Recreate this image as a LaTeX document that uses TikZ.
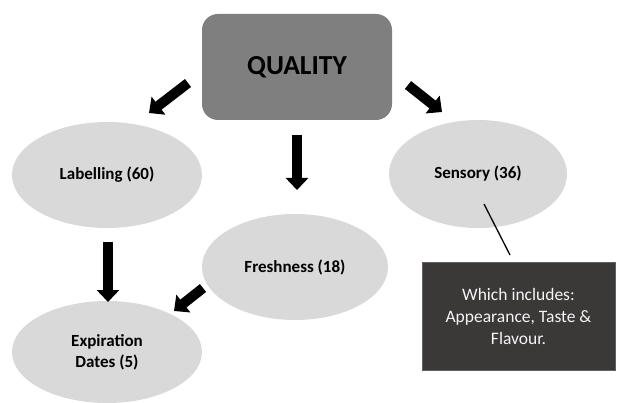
\documentclass[tikz,border=0pt]{standalone}
\usepackage{fontspec}
\setmainfont{Carlito}
\usetikzlibrary{arrows.meta,shapes.geometric}
\definecolor{qgray}{HTML}{7F7F7F}
\definecolor{ovalgray}{HTML}{D9D9D9}
\definecolor{notebox}{HTML}{3B3838}
\begin{document}
\begin{tikzpicture}[x=1pt,y=-1pt,
  oval/.style={ellipse, fill=ovalgray, inner sep=0pt, font=\fontsize{17}{21}\selectfont\bfseries, align=center},
  blockarrow/.style={line width=10pt, -{Triangle[width=22pt,length=12pt]}},
  link/.style={line width=1.3pt}]
\useasboundingbox[fill=white] (0,0) rectangle (617,403);
% main box
\node[fill=qgray, rounded corners=16pt, minimum width=190pt, minimum height=106pt,
      font=\fontsize{27.5}{32}\selectfont\bfseries] (q) at (297,67) {QUALITY};
% category ovals
\node[oval, minimum width=190pt, minimum height=106pt] (lab) at (107,175) {Labelling (60)};
\node[oval, minimum width=178pt, minimum height=108pt] (sen) at (478,174) {Sensory (36)};
\node[oval, minimum width=186pt, minimum height=106pt] (fre) at (295,267) {Freshness (18)};
\node[oval, minimum width=190pt, minimum height=102pt] (exp) at (107,352) {Expiration\\Dates (5)};
% note box
\node[fill=notebox, draw=notebox!80!white, line width=0.6pt, minimum width=193pt, minimum height=108pt,
      text=white!96!black, align=center, font=\fontsize{17.5}{22}\selectfont] (note) at (518.5,316)
      {Which includes:\\Appearance, Taste \&\\Flavour.};
% arrow end points
\coordinate (qlA) at (188,83);  \coordinate (qlB) at (149,113);
\coordinate (qrA) at (408,85);  \coordinate (qrB) at (442,112);
\coordinate (qdA) at (297,135); \coordinate (qdB) at (297,190);
\coordinate (ldA) at (108,242); \coordinate (ldB) at (108,302);
\coordinate (feA) at (203,288); \coordinate (feB) at (174,311);
\draw[blockarrow] (qlA) -- (qlB);
\draw[blockarrow] (qrA) -- (qrB);
\draw[blockarrow] (qdA) -- (qdB);
\draw[blockarrow] (ldA) -- (ldB);
\draw[blockarrow] (feA) -- (feB);
% note link
\coordinate (sl) at (484,204);
\coordinate (nl) at (510,255);
\draw[link] (sl) -- (nl);
\end{tikzpicture}
\end{document}
